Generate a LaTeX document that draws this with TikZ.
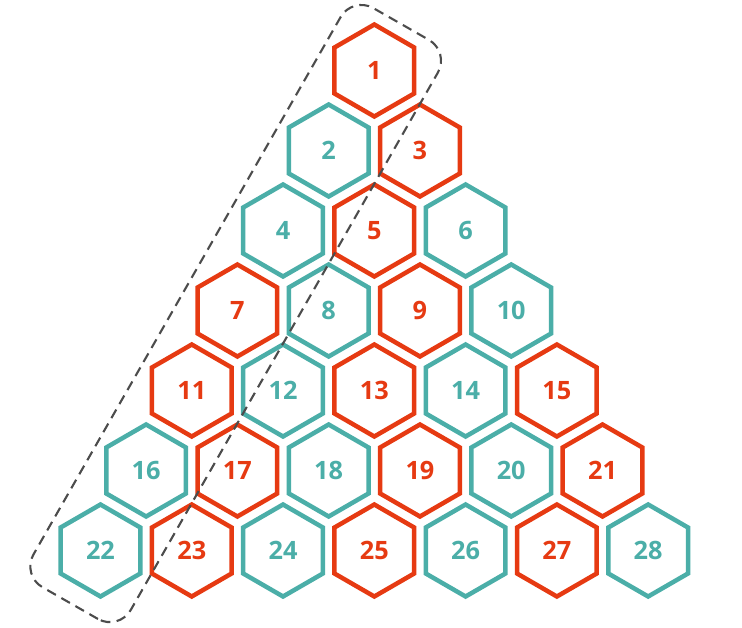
\documentclass[tikz,border=0pt]{standalone}
\usepackage{fontspec}
\setmainfont{Open Sans}
\usetikzlibrary{shapes.geometric,calc}
\definecolor{hexred}{HTML}{E63A12}
\definecolor{hexteal}{HTML}{4BAEA8}
\tikzset{
hexcell/.style={regular polygon,regular polygon sides=6,shape border rotate=30,minimum size=2.3cm,inner sep=0pt,line width=3.2pt,draw=#1,text=#1,font=\fontsize{18}{20}\selectfont\bfseries},
diagbox/.style={draw=black!70,line width=1.5pt,dash pattern=on 7pt off 4.5pt,rounded corners=0.6cm}
}
\begin{document}
\begin{tikzpicture}
\useasboundingbox (0,0) rectangle (18.55,-15.7);
\foreach \r in {0,...,6}{
\foreach \k in {0,...,\r}{
\pgfmathtruncatemacro{\n}{\r*(\r+1)/2+\k+1}
\pgfmathtruncatemacro{\odd}{mod(\n,2)}
\ifnum\odd=1 \def\hc{hexred}\else\def\hc{hexteal}\fi
\node[hexcell=\hc] (h\n) at ({9.358+(2*\k-\r)*1.141},{-1.7625-2*\r}) {\n};
}
}
\coordinate (mid) at ($(h1)!0.5!(h22)$);
\draw[diagbox,shift={(mid)},rotate=60.25] (-8.425,-1.4) rectangle (8.25,1.4);
\end{tikzpicture}
\end{document}
